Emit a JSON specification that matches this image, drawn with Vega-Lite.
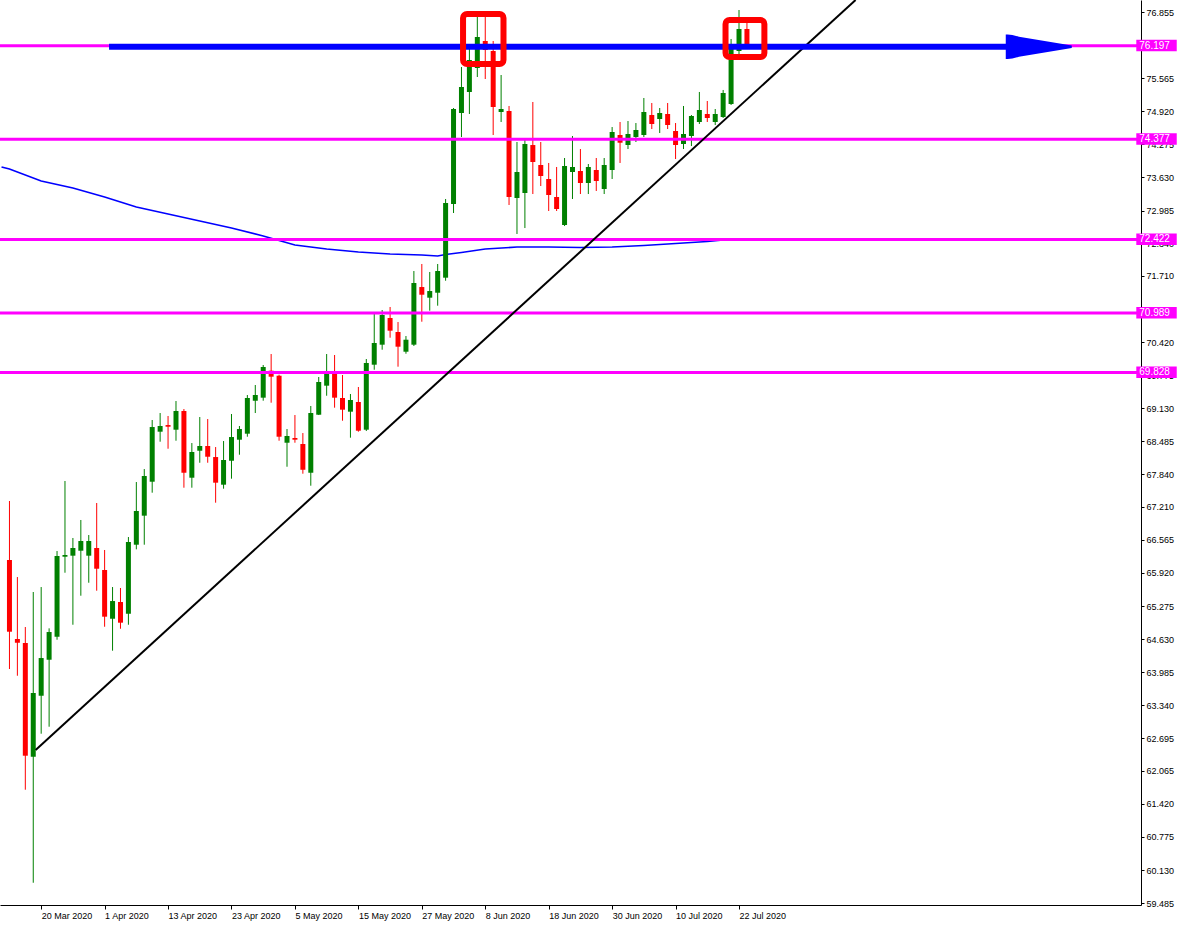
{
  "$schema": "https://vega.github.io/schema/vega-lite/v6.json",
  "width": 1141,
  "height": 905,
  "autosize": {"type": "none"},
  "padding": {"left": 0, "top": 0, "right": 41, "bottom": 21},
  "background": "#FFFFFF",
  "config": {
    "view": {"stroke": null},
    "font": "Liberation Sans",
    "axis": {"labelOverlap": false, "labelFlush": false, "grid": false},
    "axisY": {"labelOverlap": false}
  },
  "datasets": {
    "candles": [
      {"i":0,"date":"2020-03-16","o":66.173,"h":67.323,"l":64.048,"c":64.775},
      {"i":1,"date":"2020-03-17","o":64.633,"h":65.841,"l":63.917,"c":64.561},
      {"i":2,"date":"2020-03-18","o":64.555,"h":64.867,"l":61.695,"c":62.358},
      {"i":3,"date":"2020-03-19","o":62.339,"h":65.549,"l":59.882,"c":63.580},
      {"i":4,"date":"2020-03-20","o":63.527,"h":65.646,"l":62.787,"c":64.262},
      {"i":5,"date":"2020-03-23","o":64.229,"h":64.841,"l":62.923,"c":64.769},
      {"i":6,"date":"2020-03-24","o":64.677,"h":66.348,"l":64.619,"c":66.251},
      {"i":7,"date":"2020-03-25","o":66.237,"h":67.713,"l":65.925,"c":66.270},
      {"i":8,"date":"2020-03-26","o":66.257,"h":66.602,"l":64.911,"c":66.407},
      {"i":9,"date":"2020-03-27","o":66.354,"h":66.953,"l":65.477,"c":66.543},
      {"i":10,"date":"2020-03-30","o":66.257,"h":66.660,"l":65.730,"c":66.543},
      {"i":11,"date":"2020-03-31","o":66.407,"h":67.284,"l":65.574,"c":66.003},
      {"i":12,"date":"2020-04-01","o":65.978,"h":66.368,"l":64.872,"c":65.068},
      {"i":13,"date":"2020-04-02","o":65.028,"h":65.646,"l":64.405,"c":65.373},
      {"i":14,"date":"2020-04-03","o":65.354,"h":65.627,"l":64.833,"c":64.951},
      {"i":15,"date":"2020-04-06","o":65.126,"h":66.621,"l":64.911,"c":66.524},
      {"i":16,"date":"2020-04-07","o":66.471,"h":67.693,"l":66.381,"c":67.128},
      {"i":17,"date":"2020-04-08","o":67.037,"h":67.946,"l":66.471,"c":67.810},
      {"i":18,"date":"2020-04-09","o":67.699,"h":68.902,"l":67.485,"c":68.765},
      {"i":19,"date":"2020-04-10","o":68.674,"h":69.038,"l":68.479,"c":68.785},
      {"i":20,"date":"2020-04-13","o":68.804,"h":68.980,"l":68.342,"c":68.771},
      {"i":21,"date":"2020-04-14","o":68.713,"h":69.272,"l":68.498,"c":69.077},
      {"i":22,"date":"2020-04-15","o":69.077,"h":69.116,"l":67.582,"c":67.874},
      {"i":23,"date":"2020-04-16","o":67.777,"h":68.453,"l":67.582,"c":68.278},
      {"i":24,"date":"2020-04-17","o":68.303,"h":68.960,"l":68.069,"c":68.395},
      {"i":25,"date":"2020-04-20","o":68.395,"h":68.921,"l":68.069,"c":68.186},
      {"i":26,"date":"2020-04-21","o":68.180,"h":68.375,"l":67.290,"c":67.680},
      {"i":27,"date":"2020-04-22","o":67.641,"h":68.492,"l":67.563,"c":68.122},
      {"i":28,"date":"2020-04-23","o":68.108,"h":69.019,"l":67.758,"c":68.570},
      {"i":29,"date":"2020-04-24","o":68.518,"h":68.785,"l":68.225,"c":68.726},
      {"i":30,"date":"2020-04-27","o":68.635,"h":69.389,"l":68.576,"c":69.331},
      {"i":31,"date":"2020-04-28","o":69.278,"h":69.584,"l":69.038,"c":69.389},
      {"i":32,"date":"2020-04-29","o":69.337,"h":69.974,"l":69.278,"c":69.935},
      {"i":33,"date":"2020-04-30","o":69.863,"h":70.188,"l":69.239,"c":69.746},
      {"i":34,"date":"2020-05-01","o":69.765,"h":69.785,"l":68.498,"c":68.576},
      {"i":35,"date":"2020-05-04","o":68.459,"h":68.726,"l":67.991,"c":68.590},
      {"i":36,"date":"2020-05-05","o":68.551,"h":68.999,"l":68.459,"c":68.518},
      {"i":37,"date":"2020-05-06","o":68.434,"h":68.648,"l":67.855,"c":67.932},
      {"i":38,"date":"2020-05-07","o":67.874,"h":69.175,"l":67.621,"c":69.038},
      {"i":39,"date":"2020-05-08","o":69.005,"h":69.740,"l":68.999,"c":69.643},
      {"i":40,"date":"2020-05-11","o":69.571,"h":70.188,"l":69.375,"c":69.837},
      {"i":41,"date":"2020-05-12","o":69.837,"h":70.169,"l":69.142,"c":69.337},
      {"i":42,"date":"2020-05-13","o":69.331,"h":69.779,"l":68.888,"c":69.103},
      {"i":43,"date":"2020-05-14","o":69.064,"h":69.409,"l":68.557,"c":69.292},
      {"i":44,"date":"2020-05-15","o":69.253,"h":69.545,"l":68.674,"c":68.693},
      {"i":45,"date":"2020-05-18","o":68.713,"h":70.091,"l":68.687,"c":70.013},
      {"i":46,"date":"2020-05-19","o":69.980,"h":70.968,"l":69.882,"c":70.403},
      {"i":47,"date":"2020-05-20","o":70.370,"h":71.046,"l":70.272,"c":70.949},
      {"i":48,"date":"2020-05-21","o":70.890,"h":71.105,"l":70.506,"c":70.643},
      {"i":49,"date":"2020-05-22","o":70.617,"h":70.812,"l":69.941,"c":70.331},
      {"i":50,"date":"2020-05-25","o":70.233,"h":70.539,"l":70.194,"c":70.467},
      {"i":51,"date":"2020-05-26","o":70.370,"h":71.806,"l":70.344,"c":71.572},
      {"i":52,"date":"2020-05-27","o":71.494,"h":71.943,"l":70.818,"c":71.344},
      {"i":53,"date":"2020-05-28","o":71.286,"h":71.787,"l":71.033,"c":71.416},
      {"i":54,"date":"2020-05-29","o":71.383,"h":71.943,"l":71.130,"c":71.806},
      {"i":55,"date":"2020-06-01","o":71.676,"h":73.210,"l":71.617,"c":73.132},
      {"i":56,"date":"2020-06-02","o":73.112,"h":74.984,"l":72.937,"c":74.964},
      {"i":57,"date":"2020-06-03","o":74.886,"h":75.783,"l":74.418,"c":75.393},
      {"i":58,"date":"2020-06-04","o":75.296,"h":76.153,"l":74.867,"c":75.919},
      {"i":59,"date":"2020-06-05","o":75.763,"h":76.758,"l":75.588,"c":76.368},
      {"i":60,"date":"2020-06-08","o":76.290,"h":76.758,"l":75.549,"c":76.114},
      {"i":61,"date":"2020-06-09","o":76.095,"h":76.290,"l":74.457,"c":75.003},
      {"i":62,"date":"2020-06-10","o":74.906,"h":75.627,"l":74.711,"c":74.964},
      {"i":63,"date":"2020-06-11","o":74.925,"h":75.023,"l":73.093,"c":73.249},
      {"i":64,"date":"2020-06-12","o":73.229,"h":74.321,"l":72.528,"c":73.736},
      {"i":65,"date":"2020-06-15","o":73.327,"h":74.360,"l":72.644,"c":74.282},
      {"i":66,"date":"2020-06-16","o":74.262,"h":75.101,"l":73.307,"c":73.931},
      {"i":67,"date":"2020-06-17","o":73.873,"h":74.321,"l":73.463,"c":73.658},
      {"i":68,"date":"2020-06-18","o":73.600,"h":73.912,"l":72.976,"c":73.288},
      {"i":69,"date":"2020-06-19","o":73.249,"h":73.834,"l":72.976,"c":73.015},
      {"i":70,"date":"2020-06-22","o":72.703,"h":74.009,"l":72.683,"c":73.853},
      {"i":71,"date":"2020-06-23","o":73.736,"h":74.438,"l":73.210,"c":73.834},
      {"i":72,"date":"2020-06-24","o":73.756,"h":74.184,"l":73.307,"c":73.522},
      {"i":73,"date":"2020-06-25","o":73.522,"h":73.892,"l":73.307,"c":73.834},
      {"i":74,"date":"2020-06-26","o":73.775,"h":74.009,"l":73.366,"c":73.561},
      {"i":75,"date":"2020-06-29","o":73.405,"h":74.009,"l":73.307,"c":73.873},
      {"i":76,"date":"2020-06-30","o":73.775,"h":74.613,"l":73.600,"c":74.516},
      {"i":77,"date":"2020-07-01","o":74.457,"h":74.711,"l":73.912,"c":74.307},
      {"i":78,"date":"2020-07-02","o":74.262,"h":74.730,"l":74.184,"c":74.477},
      {"i":79,"date":"2020-07-03","o":74.418,"h":74.691,"l":74.321,"c":74.555},
      {"i":80,"date":"2020-07-06","o":74.457,"h":75.179,"l":74.418,"c":74.906},
      {"i":81,"date":"2020-07-07","o":74.847,"h":75.081,"l":74.574,"c":74.672},
      {"i":82,"date":"2020-07-08","o":74.769,"h":74.984,"l":74.496,"c":74.886},
      {"i":83,"date":"2020-07-09","o":74.867,"h":75.081,"l":74.574,"c":74.652},
      {"i":84,"date":"2020-07-10","o":74.535,"h":74.691,"l":73.989,"c":74.262},
      {"i":85,"date":"2020-07-13","o":74.282,"h":75.023,"l":74.184,"c":74.477},
      {"i":86,"date":"2020-07-14","o":74.438,"h":74.847,"l":74.243,"c":74.828},
      {"i":87,"date":"2020-07-15","o":74.711,"h":75.296,"l":74.672,"c":74.945},
      {"i":88,"date":"2020-07-16","o":74.867,"h":75.120,"l":74.711,"c":74.789},
      {"i":89,"date":"2020-07-17","o":74.711,"h":74.964,"l":74.652,"c":74.867},
      {"i":90,"date":"2020-07-20","o":74.808,"h":75.335,"l":74.789,"c":75.276},
      {"i":91,"date":"2020-07-21","o":75.062,"h":76.329,"l":75.042,"c":76.153},
      {"i":92,"date":"2020-07-22","o":76.095,"h":76.894,"l":76.017,"c":76.524},
      {"i":93,"date":"2020-07-23","o":76.524,"h":76.641,"l":76.134,"c":76.231}
    ],
    "ma": [
      {"i":-1,"v":73.834},{"i":0,"v":73.795},{"i":4,"v":73.561},{"i":8,"v":73.424},
      {"i":12,"v":73.249},{"i":16,"v":73.054},{"i":20,"v":72.917},{"i":24,"v":72.781},
      {"i":28,"v":72.644},{"i":32,"v":72.489},{"i":36,"v":72.313},{"i":40,"v":72.235},
      {"i":44,"v":72.177},{"i":48,"v":72.138},{"i":52,"v":72.118},{"i":54,"v":72.099},
      {"i":55,"v":72.128},{"i":57,"v":72.167},{"i":60,"v":72.235},{"i":64,"v":72.274},
      {"i":68,"v":72.274},{"i":72,"v":72.264},{"i":76,"v":72.274},{"i":80,"v":72.303},
      {"i":84,"v":72.342},{"i":88,"v":72.381},{"i":90,"v":72.411}
    ],
    "levels": [
      {"level":76.197},{"level":74.377},{"level":72.422},{"level":70.989},{"level":69.828}
    ],
    "trend": [
      {"i":3.3,"p":62.47},{"i":106.7,"p":77.089}
    ],
    "arrow": [
      {"i1":12.56,"i2":126.3,"p":76.178}
    ],
    "head": [
      {"i":129.8,"p":76.178}
    ],
    "boxes": [
      {"i1":57.2,"i2":62.3,"p1":76.816,"p2":75.841},
      {"i1":90.3,"i2":95.2,"p1":76.699,"p2":75.978}
    ]
  },
  "layer": [
    {
      "data": {"name": "ma"},
      "mark": {"type": "line", "color": "#0000FF", "strokeWidth": 1.6, "clip": true},
      "encoding": {
        "x": {"field": "i", "type": "quantitative",
          "scale": {"domain": [-0.5625, 142.0625], "nice": false, "zero": false},
          "axis": {
            "orient": "bottom", "title": null, "grid": false, "tickCount": 40,
            "values": [4,12,20,28,36,44,52,60,68,76,84,92],
            "labelExpr": "['20 Mar 2020','1 Apr 2020','13 Apr 2020','23 Apr 2020','5 May 2020','15 May 2020','27 May 2020','8 Jun 2020','18 Jun 2020','30 Jun 2020','10 Jul 2020','22 Jul 2020'][round((datum.value-4)/8)]",
            "labelAlign": "left", "labelBaseline": "top", "labelPadding": 2, "labelFontSize": 9,
            "labelColor": "#000000", "labelFont": "Liberation Sans", "labelOverlap": false, "labelFlush": false,
            "tickSize": 4, "tickColor": "#000000", "domainColor": "#000000", "domainWidth": 1
          }
        },
        "y": {"field": "v", "type": "quantitative",
          "scale": {"domain": [59.448, 77.089], "nice": false, "zero": false},
          "axis": {
            "orient": "right", "title": null, "grid": false, "tickCount": 60,
            "values": [76.855,76.21,75.565,74.92,74.275,73.63,72.985,72.34,71.71,71.065,70.42,69.775,69.13,68.485,67.84,67.21,66.565,65.92,65.275,64.63,63.985,63.34,62.695,62.065,61.42,60.775,60.13,59.485],
            "format": ".3f", "labelFontSize": 9, "labelColor": "#000000", "labelFont": "Liberation Sans",
            "labelPadding": 2, "labelOverlap": false, "labelFlush": false, "labelBound": false,
            "tickSize": 3, "tickColor": "#000000", "domainColor": "#000000", "domainWidth": 1
          }
        }
      }
    },
    {
      "data": {"name": "candles"},
      "mark": {"type": "rule", "strokeWidth": 1},
      "encoding": {
        "x": {"field": "i", "type": "quantitative"},
        "y": {"field": "l", "type": "quantitative"},
        "y2": {"field": "h"},
        "color": {"condition": {"test": "datum.c < datum.o", "value": "#FF0000"}, "value": "#008000"}
      }
    },
    {
      "data": {"name": "candles"},
      "mark": {"type": "bar", "width": 5},
      "encoding": {
        "x": {"field": "i", "type": "quantitative"},
        "y": {"field": "o", "type": "quantitative"},
        "y2": {"field": "c"},
        "color": {"condition": {"test": "datum.c < datum.o", "value": "#FF0000"}, "value": "#008000"}
      }
    },
    {
      "data": {"name": "levels"},
      "mark": {"type": "rule", "color": "#FF00FF", "strokeWidth": 3},
      "encoding": {
        "y": {"field": "level", "type": "quantitative"}
      }
    },
    {
      "data": {"name": "trend"},
      "mark": {"type": "line", "color": "#000000", "strokeWidth": 2, "clip": true},
      "encoding": {
        "x": {"field": "i", "type": "quantitative"},
        "y": {"field": "p", "type": "quantitative"}
      }
    },
    {
      "data": {"name": "arrow"},
      "mark": {"type": "rule", "color": "#0000FF", "strokeWidth": 6},
      "encoding": {
        "x": {"field": "i1", "type": "quantitative"},
        "x2": {"field": "i2"},
        "y": {"field": "p", "type": "quantitative"}
      }
    },
    {
      "data": {"name": "head"},
      "mark": {"type": "point", "filled": true, "opacity": 1, "color": "#0000FF",
        "shape": "M -1 -0.37 Q -0.85 -0.39 -0.6 -0.3 L 1 -0.04 L 1 0.04 L -0.6 0.3 Q -0.85 0.39 -1 0.37 Z",
        "size": 4356},
      "encoding": {
        "x": {"field": "i", "type": "quantitative"},
        "y": {"field": "p", "type": "quantitative"}
      }
    },
    {
      "data": {"name": "boxes"},
      "mark": {"type": "rect", "filled": false, "color": "#FF0000", "strokeWidth": 6, "cornerRadius": 4},
      "encoding": {
        "x": {"field": "i1", "type": "quantitative"},
        "x2": {"field": "i2"},
        "y": {"field": "p1", "type": "quantitative"},
        "y2": {"field": "p2"}
      }
    },
    {
      "mark": {"type": "rect", "color": "#000000", "yOffset": -6, "y2Offset": 6},
      "encoding": {
        "x": {"datum": 142.1},
        "x2": {"datum": 147.2},
        "y": {"datum": 76.15},
        "y2": {"datum": 76.15}
      }
    },
    {
      "data": {"name": "levels"},
      "mark": {"type": "rect", "color": "#FF00FF", "yOffset": -6, "y2Offset": 5.5},
      "encoding": {
        "x": {"datum": 142.1},
        "x2": {"datum": 147.2},
        "y": {"field": "level", "type": "quantitative"},
        "y2": {"field": "level"}
      }
    },
    {
      "data": {"name": "levels"},
      "mark": {"type": "text", "color": "#FFFFFF", "align": "left", "baseline": "middle", "fontSize": 10, "font": "Liberation Sans", "dx": 3},
      "encoding": {
        "x": {"datum": 142.1},
        "y": {"field": "level", "type": "quantitative"},
        "text": {"field": "level", "type": "quantitative", "format": ".3f"}
      }
    }
  ]
}
